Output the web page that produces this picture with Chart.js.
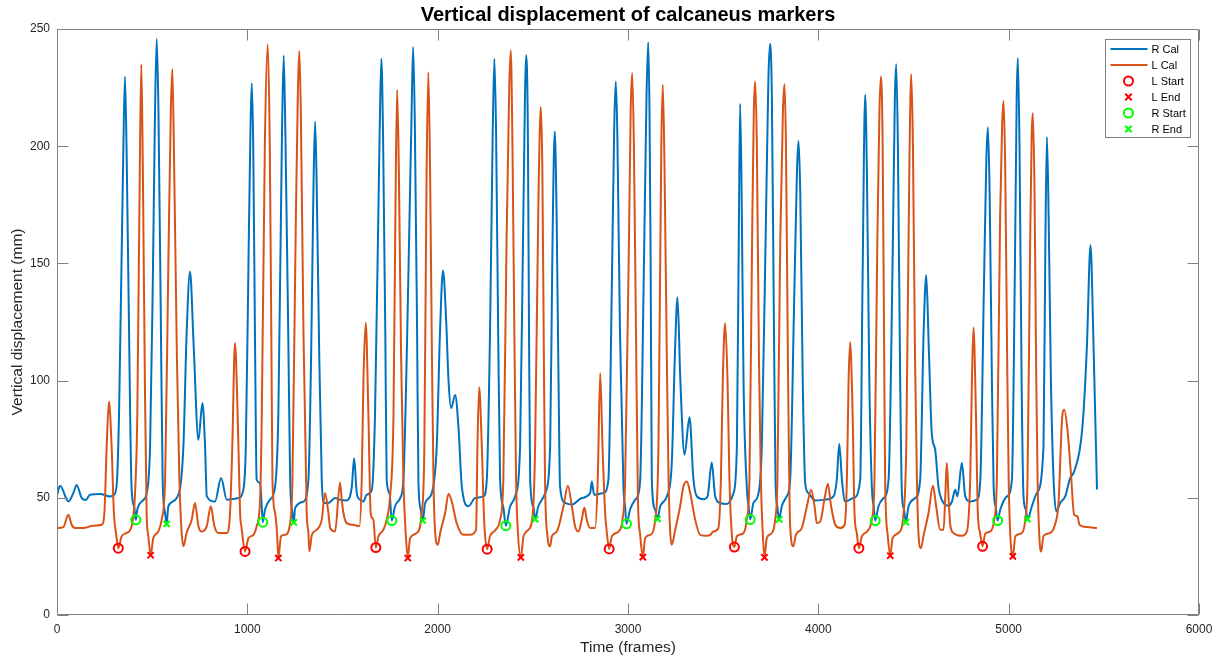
<!DOCTYPE html>
<html>
<head>
<meta charset="utf-8">
<script src="https://cdn.jsdelivr.net/npm/chart.js@4/dist/chart.umd.min.js"></script>
<style>
  html, body { margin: 0; padding: 0; background: #ffffff; }
  #wrap { width: 1221px; height: 658px; }
</style>
</head>
<body>
<div id="wrap"><canvas id="chart" width="1221" height="658"></canvas></div>
<script>
// Right calcaneus marker height (mm) against frame number
const rCalFrames = [
  0, 16, 60, 86, 103, 130, 152, 173, 226, 279, 300, 314, 326, 348, 357, 366, 375, 392, 406, 414,
  422, 454, 471, 489, 503, 515, 524, 533, 545, 555, 568, 576, 585, 629, 664, 681, 699, 718, 743, 764,
  778, 787, 830, 862, 892, 953, 979, 992, 1006, 1016, 1023, 1031, 1040, 1049, 1067, 1076, 1081, 1093, 1119, 1146,
  1163, 1182, 1191, 1200, 1215, 1225, 1237, 1244, 1251, 1295, 1321, 1335, 1348, 1356, 1364, 1378, 1391, 1400, 1426, 1461,
  1487, 1522, 1549, 1561, 1575, 1592, 1610, 1627, 1654, 1671, 1695, 1704, 1713, 1725, 1732, 1747, 1759, 1776, 1803, 1820,
  1840, 1862, 1871, 1880, 1892, 1899, 1911, 1922, 1934, 1969, 1995, 2012, 2028, 2045, 2057, 2071, 2092, 2109, 2127, 2162,
  2197, 2241, 2258, 2275, 2289, 2298, 2307, 2318, 2328, 2345, 2358, 2381, 2407, 2433, 2450, 2465, 2474, 2480, 2486, 2503,
  2512, 2529, 2565, 2591, 2602, 2615, 2625, 2635, 2643, 2670, 2705, 2757, 2801, 2810, 2822, 2871, 2897, 2915, 2928, 2936,
  2944, 2958, 2976, 2985, 2992, 3011, 3038, 3046, 3064, 3082, 3097, 3106, 3113, 3119, 3125, 3142, 3155, 3169, 3204, 3230,
  3246, 3260, 3275, 3297, 3323, 3344, 3362, 3397, 3418, 3440, 3458, 3484, 3519, 3554, 3572, 3582, 3589, 3597, 3607, 3624,
  3634, 3642, 3659, 3686, 3703, 3725, 3738, 3747, 3756, 3766, 3775, 3785, 3794, 3808, 3834, 3852, 3872, 3888, 3896, 3905,
  3918, 3931, 3948, 3983, 4036, 4080, 4097, 4110, 4124, 4141, 4185, 4220, 4232, 4246, 4255, 4268, 4281, 4291, 4299, 4316,
  4343, 4369, 4390, 4402, 4409, 4418, 4430, 4439, 4450, 4460, 4474, 4509, 4535, 4553, 4567, 4580, 4596, 4614, 4631, 4658,
  4684, 4702, 4719, 4731, 4754, 4772, 4798, 4833, 4851, 4870, 4883, 4891, 4900, 4912, 4921, 4932, 4942, 4956, 4991, 5017,
  5033, 5042, 5048, 5057, 5068, 5078, 5090, 5099, 5122, 5148, 5183, 5193, 5201, 5210, 5222, 5236, 5250, 5271, 5297, 5323,
  5341, 5376, 5393, 5411, 5430, 5446, 5464
];
const rCalMm = [
  51, 55.1, 48.4, 52, 55.5, 49.9, 49.1, 51.3, 51.6, 50.6, 51.3, 56, 86, 196, 229.7, 196, 143, 54, 46, 40.6,
  45, 49.1, 52, 72, 140, 215, 245.8, 215, 130, 57.7, 43.5, 38.9, 46.4, 49.9, 71.9, 120, 146.5, 115, 74.7, 90.4,
  71.9, 50.6, 48.4, 58.4, 49.2, 49.9, 53.4, 71.9, 150, 205, 226.9, 200, 120, 57.7, 56.3, 46, 39.6, 45, 49.2, 54.8,
  86, 205, 238.7, 205, 120, 57.7, 43.5, 39.5, 45.6, 48.4, 57.7, 110, 185, 210.5, 185, 110, 57.7, 47.8, 47.8, 49.9,
  49.2, 48.9, 54.8, 66.9, 52, 49.2, 48.4, 51.3, 53.4, 86, 205, 237.3, 205, 120, 57.7, 52, 40.3, 46.4, 49.9, 57.7,
  120, 210, 242.4, 210, 120, 56.3, 45, 40.3, 47.8, 52, 71.9, 120, 147, 125, 100, 88.3, 93.9, 80.4, 54.8, 46.4,
  49.9, 50.6, 57.7, 120, 205, 237.3, 205, 120, 57.7, 46, 38.1, 46.4, 50.6, 71.9, 170, 238.8, 205, 120, 57.7, 46,
  40.9, 46.4, 52, 71.9, 150, 206.3, 170, 100, 54.8, 47.8, 47.1, 49.9, 52, 57, 51.3, 52, 57.7, 140, 210, 227.6,
  205, 120, 54.8, 46, 38.9, 45, 49.2, 49.9, 57.7, 140, 220, 244.4, 215, 150, 57.7, 45, 41, 46.4, 50.6, 64.8,
  110, 135.6, 100, 68.4, 84.4, 57.7, 50.6, 49.4, 50.6, 65.1, 50.6, 47.8, 47.4, 52, 71.9, 160, 218, 180, 100, 54.8,
  46, 40.7, 47.8, 52, 71.9, 170, 230, 243.7, 220, 130, 57.7, 46, 40.8, 46.4, 50.6, 57.7, 130, 190, 202.2, 180,
  100, 56.3, 52, 48.9, 49.2, 50.6, 57.7, 73, 57.7, 48.4, 49.9, 57.7, 140, 221.9, 190, 100, 54.8, 46, 40.3, 46.4,
  49.9, 57.7, 150, 220, 235, 200, 100, 52, 45, 39.6, 46.4, 49.9, 57.7, 120, 145, 115, 77.6, 70.5, 54.8, 47.8,
  46.6, 48.4, 53.4, 50.6, 64.8, 50.6, 48.4, 49.2, 57.7, 140, 195, 208.1, 180, 100, 54.8, 46, 40.3, 45, 50.6, 57.7,
  150, 220, 237.6, 200, 100, 50.6, 45, 40.9, 46.4, 52, 71.9, 160, 203.9, 170, 100, 57.7, 44.2, 47.8, 50.6, 58.4,
  60.6, 71.9, 86.2, 114.6, 157.7, 114.6, 53.5
];

// Left calcaneus marker height (mm) against frame number
const lCalFrames = [
  0, 33, 60, 77, 95, 138, 191, 235, 249, 261, 273, 287, 299, 310, 322, 340, 366, 392, 410, 422,
  435, 443, 451, 463, 471, 480, 492, 506, 532, 550, 568, 585, 598, 606, 614, 630, 643, 655, 664, 681,
  708, 725, 743, 760, 787, 808, 827, 848, 892, 909, 921, 935, 949, 962, 970, 988, 1006, 1032, 1049, 1067,
  1076, 1092, 1107, 1118, 1126, 1132, 1146, 1156, 1163, 1177, 1198, 1225, 1237, 1255, 1266, 1273, 1281, 1295, 1312, 1321,
  1326, 1339, 1365, 1391, 1408, 1426, 1435, 1461, 1487, 1496, 1505, 1522, 1557, 1589, 1601, 1610, 1622, 1636, 1648, 1662,
  1675, 1689, 1715, 1732, 1750, 1768, 1779, 1787, 1796, 1808, 1820, 1832, 1843, 1855, 1890, 1916, 1930, 1942, 1951, 1960,
  1970, 1978, 1987, 2001, 2013, 2039, 2057, 2074, 2100, 2135, 2170, 2202, 2209, 2218, 2232, 2244, 2260, 2275, 2302, 2328,
  2345, 2362, 2376, 2384, 2393, 2403, 2412, 2421, 2437, 2451, 2477, 2500, 2512, 2530, 2542, 2550, 2558, 2564, 2577, 2591,
  2600, 2626, 2661, 2684, 2705, 2722, 2740, 2757, 2771, 2783, 2801, 2827, 2841, 2854, 2866, 2880, 2889, 2901, 2915, 2950,
  2971, 2985, 3005, 3014, 3022, 3031, 3042, 3052, 3064, 3078, 3090, 3116, 3143, 3160, 3175, 3183, 3192, 3204, 3213, 3221,
  3230, 3248, 3274, 3291, 3309, 3327, 3353, 3379, 3414, 3432, 3449, 3475, 3488, 3498, 3510, 3523, 3533, 3545, 3559, 3572,
  3607, 3624, 3638, 3652, 3661, 3668, 3677, 3688, 3698, 3708, 3717, 3729, 3756, 3773, 3785, 3800, 3814, 3822, 3830, 3840,
  3852, 3869, 3882, 3913, 3940, 3962, 3980, 3992, 4010, 4032, 4050, 4067, 4089, 4115, 4138, 4150, 4159, 4167, 4180, 4190,
  4202, 4213, 4229, 4255, 4281, 4295, 4310, 4321, 4329, 4338, 4346, 4351, 4365, 4378, 4390, 4421, 4448, 4462, 4478, 4488,
  4497, 4508, 4518, 4526, 4539, 4553, 4579, 4602, 4619, 4640, 4658, 4667, 4675, 4684, 4693, 4710, 4754, 4780, 4798, 4807,
  4815, 4828, 4838, 4850, 4863, 4877, 4903, 4924, 4938, 4955, 4966, 4973, 4982, 4992, 5000, 5008, 5022, 5035, 5070, 5087,
  5099, 5113, 5121, 5127, 5136, 5145, 5152, 5161, 5171, 5183, 5218, 5245, 5262, 5280, 5292, 5309, 5327, 5344, 5362, 5372,
  5411, 5464
];
const lCalMm = [
  37.1, 37.5, 42.8, 38.5, 37.1, 37.1, 38.1, 38.5, 43.5, 71.9, 91.1, 71.9, 43.5, 35, 28.5, 33.6, 35, 37.9, 52, 86,
  190, 235, 190, 90, 43.5, 33.6, 25.5, 32.8, 35.6, 40.7, 57.7, 150, 215, 232.9, 200, 110, 57.7, 35, 29.3, 35,
  40.7, 47.8, 37.9, 35.6, 37.9, 46.4, 37.9, 35, 35, 43.5, 71.9, 116, 86.1, 43.5, 37.1, 27.1, 32.8, 34.2, 37.9, 49.2,
  86, 200, 243.5, 200, 120, 57.7, 43.5, 35, 24.3, 33.6, 34.2, 39.2, 57.7, 170, 225, 240.7, 215, 120, 43.5, 35,
  27.1, 34.2, 36.4, 40.7, 52, 43.5, 37.1, 35.6, 56.5, 49.2, 43.5, 39.2, 38.5, 37.9, 57.7, 100, 124.8, 86.1, 43.5, 40.7,
  28.8, 33.6, 36.4, 40.7, 50.6, 86, 180, 224, 190, 110, 57.7, 35, 24.3, 32.8, 35, 43.5, 71.9, 190, 231.6, 190,
  110, 57.7, 35, 30, 35, 43.5, 51.7, 48.4, 39.2, 34.2, 34.2, 36.4, 71.9, 97.2, 71.9, 40.7, 28.1, 33.6, 36.1, 40.7,
  57.7, 160, 225, 240.8, 200, 120, 57.7, 36.4, 24.6, 33.6, 36.4, 43.5, 71.9, 180, 216.7, 190, 110, 57.7, 33.6, 29.3,
  33.6, 35.6, 46.4, 55.1, 46.4, 37.9, 35.6, 40.7, 45.9, 40.7, 37.1, 37.1, 57.7, 103.2, 71.9, 43.5, 35, 28.2, 33.6, 35.6,
  40.7, 57.7, 160, 215, 231.2, 200, 120, 50, 34.2, 24.7, 32.8, 34.2, 40.7, 71.9, 200, 226.2, 190, 110, 57.7, 36.4,
  30, 36.4, 46.4, 54.8, 57, 52, 40.7, 34.2, 33.8, 34.2, 35.6, 37.1, 57.7, 100, 124.5, 100, 57.7, 35, 29, 33.6,
  35, 40.7, 57.7, 160, 215, 227.6, 200, 110, 57.7, 35, 24.6, 32.8, 35, 40.7, 57.7, 160, 215, 226.5, 200, 110,
  37.9, 29.3, 34.2, 37.1, 46.4, 53.4, 46.4, 39.2, 39.9, 49.2, 56, 46.4, 38.5, 37.1, 38.5, 57.7, 100, 116.4, 86.1, 43.5,
  35, 28.5, 33.6, 35.6, 40.7, 57.7, 160, 215, 229.7, 200, 110, 57.7, 33.6, 25.3, 32.8, 35, 43.5, 71.9, 190, 230.7,
  200, 110, 57.7, 35, 28.5, 34, 43.5, 55.1, 46.4, 36.4, 36.4, 50.6, 64.8, 50.6, 38.5, 35, 33.8, 35.6, 57.7, 100,
  122.7, 86.1, 43.5, 35, 29.3, 34.7, 35.6, 40.7, 57.7, 170, 210, 219.3, 190, 110, 57.7, 35, 25, 33.6, 35, 40.7,
  57.7, 160, 205, 214.1, 180, 100, 57.7, 33.6, 27.1, 33.7, 35, 39, 48, 83, 87.6, 79, 60.6, 42.8, 42.1, 38.5,
  37.5, 37.1
];

// Gait event markers
const lStartFrames = [322, 988, 1675, 2260, 2901, 3559, 4213, 4863];
const lStartMm = [28.5, 27.1, 28.8, 28.1, 28.2, 29, 28.5, 29.3];
const lEndFrames = [492, 1163, 1843, 2437, 3078, 3717, 4378, 5022];
const lEndMm = [25.5, 24.3, 24.3, 24.6, 24.7, 24.6, 25.3, 25];
const rStartFrames = [414, 1081, 1759, 2358, 2992, 3642, 4299, 4942];
const rStartMm = [40.6, 39.6, 40.3, 38.1, 38.9, 40.7, 40.3, 40.3];
const rEndFrames = [576, 1244, 1922, 2512, 3155, 3794, 4460, 5099];
const rEndMm = [38.9, 39.5, 40.3, 40.9, 41, 40.8, 39.6, 40.9];

// Axis ticks
const xTicks = [0, 1000, 2000, 3000, 4000, 5000, 6000];
const xTickLabels = ['0', '1000', '2000', '3000', '4000', '5000', '6000'];
const yTicks = [0, 50, 100, 150, 200, 250];
const yTickLabels = ['0', '50', '100', '150', '200', '250'];

const seriesNames = ['R Cal', 'L Cal', 'L Start', 'L End', 'R Start', 'R End'];

const pairs = (xs, ys) => xs.map((f, i) => ({ x: f, y: ys[i] }));

const BLUE = '#0072BD';
const ORANGE = '#D95319';
const RED = '#FF0000';
const GREEN = '#00FF00';
const AXIS = '#808080';
const TEXT = '#262626';
const FONT = '"Liberation Sans", Arial, Helvetica, sans-serif';

// Box round the plot with inward tick marks on all four sides
const axisBox = {
  id: 'axisBox',
  afterDatasetsDraw(chart) {
    const { ctx, chartArea: a, scales: { x, y } } = chart;
    const L = Math.round(a.left) + 0.5, R = Math.round(a.right) - 0.5;
    const T = Math.round(a.top) + 0.5, B = Math.round(a.bottom) - 0.5;
    const tl = 11;
    ctx.save();
    ctx.strokeStyle = AXIS;
    ctx.lineWidth = 1;
    ctx.beginPath();
    ctx.rect(L, T, R - L, B - T);
    xTicks.forEach(v => {
      const px = Math.round(x.getPixelForValue(v)) + 0.5;
      ctx.moveTo(px, B); ctx.lineTo(px, B - tl);
      ctx.moveTo(px, T); ctx.lineTo(px, T + tl);
    });
    yTicks.forEach(v => {
      const py = Math.round(y.getPixelForValue(v)) + 0.5;
      ctx.moveTo(L, py); ctx.lineTo(L + tl, py);
      ctx.moveTo(R, py); ctx.lineTo(R - tl, py);
    });
    ctx.stroke();
    ctx.restore();
  }
};

// Legend box in the upper right corner of the plot
const cornerLegend = {
  id: 'cornerLegend',
  afterDraw(chart) {
    const { ctx, chartArea: a } = chart;
    const bw = 85, bh = 98;
    const bx = Math.round(a.right) - 94 + 0.5, by = Math.round(a.top) + 10 + 0.5;
    ctx.save();
    ctx.fillStyle = '#ffffff';
    ctx.fillRect(bx, by, bw, bh);
    ctx.strokeStyle = AXIS;
    ctx.lineWidth = 1;
    ctx.strokeRect(bx, by, bw, bh);
    ctx.font = '11px ' + FONT;
    ctx.textBaseline = 'middle';
    ctx.textAlign = 'left';
    const rowH = 16;
    chart.data.datasets.forEach((ds, i) => {
      const cy = by + 9.5 + i * rowH;
      const sx = bx + 5, ex = bx + 42, mx = bx + 23;
      if (ds.showLine !== false) {
        ctx.strokeStyle = ds.borderColor;
        ctx.lineWidth = 2;
        ctx.beginPath(); ctx.moveTo(sx, cy); ctx.lineTo(ex, cy); ctx.stroke();
      } else if (ds.pointStyle === 'circle') {
        ctx.strokeStyle = ds.pointBorderColor;
        ctx.lineWidth = 2;
        ctx.beginPath(); ctx.arc(mx, cy, 4.5, 0, Math.PI * 2); ctx.stroke();
      } else {
        ctx.strokeStyle = ds.pointBorderColor;
        ctx.lineWidth = 2;
        const r = 3.2;
        ctx.beginPath();
        ctx.moveTo(mx - r, cy - r); ctx.lineTo(mx + r, cy + r);
        ctx.moveTo(mx + r, cy - r); ctx.lineTo(mx - r, cy + r);
        ctx.stroke();
      }
      ctx.fillStyle = '#000000';
      ctx.fillText(ds.label, bx + 46, cy + 0.5);
    });
    ctx.restore();
  }
};

const markerSet = (label, xs, ys, color, style, radius) => ({
  label,
  data: pairs(xs, ys),
  showLine: false,
  pointStyle: style,
  pointRadius: radius,
  pointBorderWidth: 2,
  pointBorderColor: color,
  pointBackgroundColor: 'rgba(0,0,0,0)',
  borderColor: color,
  backgroundColor: 'rgba(0,0,0,0)',
  order: 1
});

new Chart(document.getElementById('chart'), {
  type: 'line',
  data: {
    datasets: [
      {
        label: seriesNames[0], data: pairs(rCalFrames, rCalMm),
        borderColor: BLUE, borderWidth: 2, pointRadius: 0, fill: false,
        cubicInterpolationMode: 'monotone', order: 3
      },
      {
        label: seriesNames[1], data: pairs(lCalFrames, lCalMm),
        borderColor: ORANGE, borderWidth: 2, pointRadius: 0, fill: false,
        cubicInterpolationMode: 'monotone', order: 2
      },
      markerSet(seriesNames[2], lStartFrames, lStartMm, RED, 'circle', 4.5),
      markerSet(seriesNames[3], lEndFrames, lEndMm, RED, 'crossRot', 4.4),
      markerSet(seriesNames[4], rStartFrames, rStartMm, GREEN, 'circle', 4.5),
      markerSet(seriesNames[5], rEndFrames, rEndMm, GREEN, 'crossRot', 4.4)
    ]
  },
  options: {
    responsive: false,
    animation: false,
    devicePixelRatio: 1,
    events: [],
    layout: { padding: { left: 0, right: 22, top: 0, bottom: 0 } },
    plugins: {
      legend: { display: false },
      tooltip: { enabled: false },
      title: {
        display: true,
        fullSize: false,
        text: 'Vertical displacement of calcaneus markers',
        color: '#000000',
        font: { family: FONT, size: 20, weight: 'bold', lineHeight: 1.1 },
        padding: { top: 4, bottom: 3 }
      }
    },
    scales: {
      x: {
        type: 'linear',
        min: 0, max: 6000,
        afterBuildTicks: s => { s.ticks = xTicks.map(v => ({ value: v })); },
        afterFit: s => { s.height = 43; },
        grid: { display: false, drawTicks: false },
        border: { display: false },
        ticks: {
          color: TEXT, padding: 7, maxRotation: 0, autoSkip: false,
          font: { family: FONT, size: 12 },
          callback: v => xTickLabels[xTicks.indexOf(v)]
        },
        title: {
          display: true, text: 'Time (frames)', color: TEXT,
          font: { family: FONT, size: 15.5 }, padding: { top: 0, bottom: 1 }
        }
      },
      y: {
        type: 'linear',
        min: 0, max: 250,
        afterBuildTicks: s => { s.ticks = yTicks.map(v => ({ value: v })); },
        afterFit: s => { s.width = 57; },
        grid: { display: false, drawTicks: false },
        border: { display: false },
        ticks: {
          color: TEXT, padding: 7, autoSkip: false,
          font: { family: FONT, size: 12 },
          callback: v => yTickLabels[yTicks.indexOf(v)]
        },
        title: {
          display: true, text: 'Vertical displacement (mm)', color: TEXT,
          font: { family: FONT, size: 15.5 }, padding: { top: 8, bottom: 0 }
        }
      }
    }
  },
  plugins: [axisBox, cornerLegend]
});
</script>
</body>
</html>
